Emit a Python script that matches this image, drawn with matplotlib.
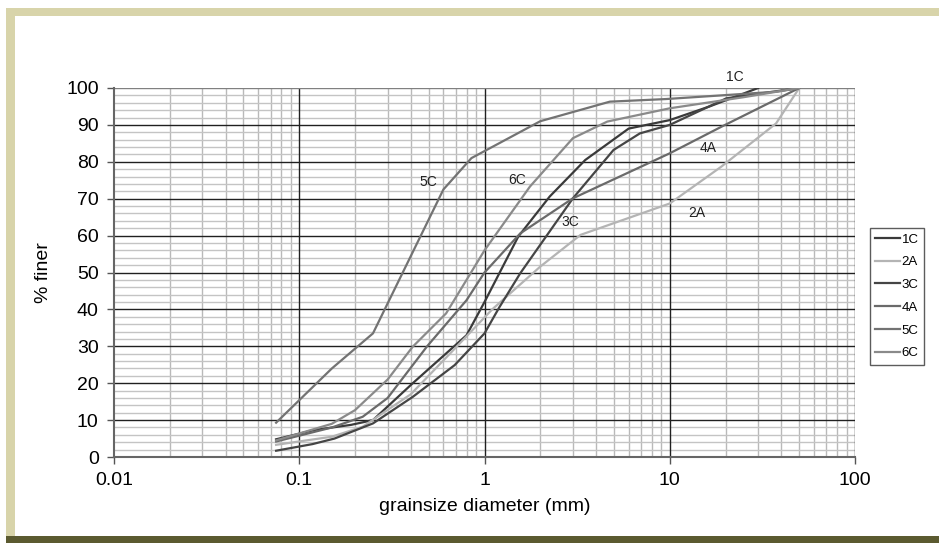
import matplotlib
matplotlib.use("Agg")
import matplotlib.pyplot as plt
from matplotlib.patches import Rectangle
from matplotlib.ticker import FixedLocator, NullFormatter, FixedFormatter
import numpy as np

plt.rcParams['font.family'] = ['Liberation Sans', 'DejaVu Sans']

# ---- data (grain size in mm, % finer) ----
d_1C = [0.075, 0.12, 0.19, 0.25, 0.41, 0.8, 1.0, 1.52, 2.25, 3.5, 6.0, 10, 16.4, 30]
p_1C = [4.8, 7.3, 8.7, 10.0, 20.0, 33.0, 42.0, 59.7, 70.6, 80.5, 89.0, 91.3, 95.0, 100]

d_2A = [0.075, 0.15, 0.22, 0.4, 0.68, 1.1, 2.0, 3.3, 10, 19, 37.5, 50]
p_2A = [3.3, 5.5, 8.2, 17.0, 29.0, 40.0, 51.6, 60.2, 68.7, 78.7, 90.4, 100]

d_3C = [0.075, 0.118, 0.155, 0.25, 0.41, 0.69, 1.0, 1.2, 1.56, 3.0, 4.97, 6.9, 10, 20.2, 50]
p_3C = [1.7, 3.5, 5.0, 9.1, 16.3, 24.9, 33.5, 40.5, 49.8, 70.1, 83.2, 87.7, 90.0, 97.2, 100]

d_4A = [0.075, 0.15, 0.22, 0.3, 0.49, 0.8, 1.0, 1.56, 3.0, 10, 19, 50]
p_4A = [4.2, 8.0, 10.9, 16.0, 30.0, 42.5, 50.0, 60.6, 70.1, 82.3, 89.5, 100]

d_5C = [0.075, 0.15, 0.25, 0.6, 0.85, 2.0, 4.75, 9.5, 19, 37.5, 50]
p_5C = [9.3, 24.0, 33.5, 72.5, 81.0, 91.0, 96.3, 97.0, 98.0, 99.0, 100]

d_6C = [0.075, 0.15, 0.2, 0.3, 0.41, 0.62, 0.8, 1.0, 1.76, 3.0, 4.6, 10, 25, 50]
p_6C = [4.5, 9.0, 12.7, 21.0, 29.9, 38.9, 48.0, 56.0, 73.3, 86.4, 90.9, 94.5, 97.5, 100]

names = ['1C', '2A', '3C', '4A', '5C', '6C']
colors = ['#3a3a3a', '#b4b4b4', '#454545', '#6a6a6a', '#737373', '#8a8a8a']

label_d = [22.4, 14.0, 2.89, 16.1, 0.495, 1.5]
label_p = [103.0, 66.1, 63.7, 83.7, 74.5, 75.0]

x_ticks = [0.01, 0.1, 1, 10, 100]
x_ticklabels = ['0.01', '0.1', '1', '10', '100']
y_ticks = list(range(0, 101, 10))

# ---- figure ----
fig = plt.figure(figsize=(9.39, 5.43), dpi=100)
fig.patch.set_facecolor('white')

W, H = 939.0, 543.0
def fr(x0, y0, x1, y1, color):
    fig.patches.append(Rectangle((x0 / W, 1 - y1 / H), (x1 - x0) / W, (y1 - y0) / H,
                                 transform=fig.transFigure, color=color, zorder=-10, lw=0))
fr(6, 8, 939, 543, '#d8d4aa')
fr(15, 16, 939, 536, 'white')
fr(6, 536, 939, 543, '#5b5a30')

ax = fig.add_axes([114 / W, 1 - 457 / H, 741 / W, 369 / H])
ax.set_facecolor('white')
ax.set_xscale('log')
ax.set_xlim(0.01, 100)
ax.set_ylim(0, 100)

# grid
minor_x = [m * 10.0 ** e for e in range(-2, 2) for m in range(2, 10)]
for xv in minor_x:
    ax.axvline(xv, color='#b9b9b9', lw=1.0, zorder=0)
for yv in range(2, 100, 2):
    if yv % 10:
        ax.axhline(yv, color='#c4c4c4', lw=1.0, zorder=0)
for xv in x_ticks[1:]:
    ax.axvline(xv, color='#202020', lw=1.0, zorder=1)
for yv in y_ticks[1:]:
    ax.axhline(yv, color='#202020' if yv < 100 else '#808080', lw=1.0, zorder=1)

series = [(d_1C, p_1C), (d_2A, p_2A), (d_3C, p_3C), (d_4A, p_4A), (d_5C, p_5C), (d_6C, p_6C)]
for (d, p), n, c in zip(series, names, colors):
    ax.plot(d, p, color=c, lw=1.6, label=n, zorder=3)

for n, xd, yp in zip(names, label_d, label_p):
    ax.text(xd, yp, n, fontsize=10, color='#222222', ha='center', va='center', clip_on=False, zorder=4)

ax.xaxis.set_major_locator(FixedLocator(x_ticks))
ax.xaxis.set_major_formatter(FixedFormatter(x_ticklabels))
ax.xaxis.set_minor_locator(FixedLocator(minor_x))
ax.xaxis.set_minor_formatter(NullFormatter())
ax.yaxis.set_major_locator(FixedLocator(y_ticks))
ax.tick_params(axis='both', which='major', labelsize=14, length=5, width=1, color='#555555', pad=6)
ax.tick_params(axis='x', which='minor', length=0)
for s in ['top', 'right']:
    ax.spines[s].set_visible(False)
for s in ['left', 'bottom']:
    ax.spines[s].set_color('#666666')
    ax.spines[s].set_linewidth(1.5)

ax.set_xlabel('grainsize diameter (mm)', fontsize=14, labelpad=6)
ax.set_ylabel('% finer', fontsize=14, labelpad=10)

leg = fig.legend(loc='upper left', bbox_to_anchor=(870 / W, 1 - 228 / H), fontsize=9.5,
                 frameon=True, fancybox=False, edgecolor='#333333', handlelength=1.9,
                 handletextpad=0.1, labelspacing=0.8, borderpad=0.4, borderaxespad=0)
leg.get_frame().set_linewidth(1.0)

fig.savefig('out.png', dpi=100)
